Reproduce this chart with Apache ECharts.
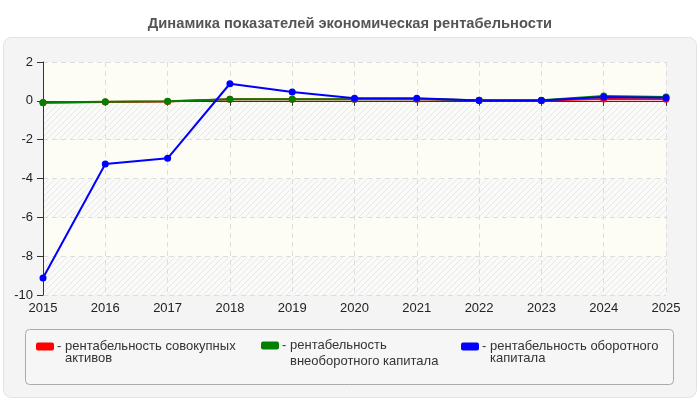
<!DOCTYPE html>
<html><head><meta charset="utf-8">
<script src="https://cdn.jsdelivr.net/npm/echarts@6/dist/echarts.min.js"></script>
<style>html,body{margin:0;padding:0;background:#fff}#c{width:700px;height:400px}</style>
</head><body><div id="c"></div>
<script>
const years = ['2015','2016','2017','2018','2019','2020','2021','2022','2023','2024','2025'];
const seriesNames = ['рентабельность совокупных активов','рентабельность внеоборотного капитала','рентабельность оборотного капитала'];
const legendLines = [['рентабельность совокупных','активов'],['рентабельность','внеоборотного капитала'],['рентабельность оборотного','капитала']];
const assetsReturn = [-0.1, -0.06, -0.03, 0.08, 0.08, 0.08, 0.08, 0.03, 0.02, 0.1, 0.08];
const fixedCapReturn = [-0.08, -0.05, -0.02, 0.08, 0.08, 0.08, 0.1, 0.03, 0.03, 0.25, 0.2];
const workingCapReturn = [-9.12, -3.25, -2.96, 0.88, 0.45, 0.13, 0.13, 0.02, 0.02, 0.2, 0.16];
const colors = ['#ff0000','#008000','#0000ff'];
const yTicks = {min:-10, max:2, interval:2};

const FONT = "'Liberation Sans', Arial, sans-serif";

// hatch pattern
const pc = document.createElement('canvas');
pc.width = 6; pc.height = 6;
const px = pc.getContext('2d');
px.fillStyle = '#fafaf8'; px.fillRect(0,0,6,6);
px.strokeStyle = '#e8e8e8'; px.lineWidth = 1;
px.beginPath(); px.moveTo(0,6); px.lineTo(6,0); px.stroke();
px.beginPath(); px.moveTo(-1,1); px.lineTo(1,-1); px.stroke();
px.beginPath(); px.moveTo(5,7); px.lineTo(7,5); px.stroke();

const chart = echarts.init(document.getElementById('c'), null, {renderer:'canvas'});
const data = [assetsReturn, fixedCapReturn, workingCapReturn];
const legendLeft = [31, 256, 456];
const legendTop = [335, 334, 335];
const secondLineH = [12, 20, 12];

chart.setOption({
  animation:false,
  backgroundColor:'#ffffff',
  title:{text:'Динамика показателей экономическая рентабельности', left:'center', top:11,
    textStyle:{fontFamily:FONT, fontSize:14.7, fontWeight:'bold', color:'#555'}},
  graphic:[
    {type:'rect', left:3, top:37, shape:{width:693, height:360, r:8}, style:{fill:'#f4f4f4', stroke:'#e2e2e2', lineWidth:1}, z:-10},
    {type:'rect', left:25, top:329, shape:{width:648, height:55, r:4}, style:{fill:'#f6f6f6', stroke:'#aaaaaa', lineWidth:1}, z:-5}
  ],
  grid:{left:43, right:34, top:62, bottom:105, show:true, backgroundColor:'#fdfdf6', borderWidth:0},
  legend: seriesNames.map((n,i)=>{
    const L2 = secondLineH[i];
    return {
      data:[n], left:legendLeft[i], top:legendTop[i], itemWidth:18, itemHeight:8, itemGap:4,
      icon:'roundRect',
      formatter:()=>'{d|-}{t|'+legendLines[i][0]+'}\n{e|}{s|'+legendLines[i][1]+'}',
      textStyle:{fontFamily:FONT, fontSize:13, color:'#333', padding:[L2,0,0,-2],
        rich:{
          d:{width:8, fontSize:13, color:'#333', lineHeight:12, fontFamily:FONT},
          t:{fontSize:13, color:'#333', lineHeight:12, fontFamily:FONT},
          e:{width:8, lineHeight:L2},
          s:{fontSize:13, color:'#333', lineHeight:L2, fontFamily:FONT}
        }}
    };
  }),
  xAxis:{type:'category', data:years, boundaryGap:false,
    axisLine:{lineStyle:{color:'#333'}}, axisTick:{show:true, length:5, lineStyle:{color:'#333'}},
    axisLabel:{fontFamily:FONT, fontSize:13, color:'#222', margin:7},
    splitLine:{show:true, lineStyle:{color:'#dddddd', type:[5,4]}}},
  yAxis:{type:'value', min:yTicks.min, max:yTicks.max, interval:yTicks.interval,
    axisLine:{show:true, lineStyle:{color:'#333'}}, axisTick:{show:true, length:6, lineStyle:{color:'#333'}},
    axisLabel:{fontFamily:FONT, fontSize:13, color:'#222', margin:10},
    splitLine:{show:true, lineStyle:{color:'#dddddd', type:[5,4]}},
    splitArea:{show:true, areaStyle:{color:[{image:pc, repeat:'repeat'}, '#fdfdf6']}}},
  series: seriesNames.map((n,i)=>({
    name:n, type:'line', data:data[i], color:colors[i],
    symbol:'circle', symbolSize:7, lineStyle:{width:2, color:colors[i]}, itemStyle:{color:colors[i]}
  }))
});
</script></body></html>
